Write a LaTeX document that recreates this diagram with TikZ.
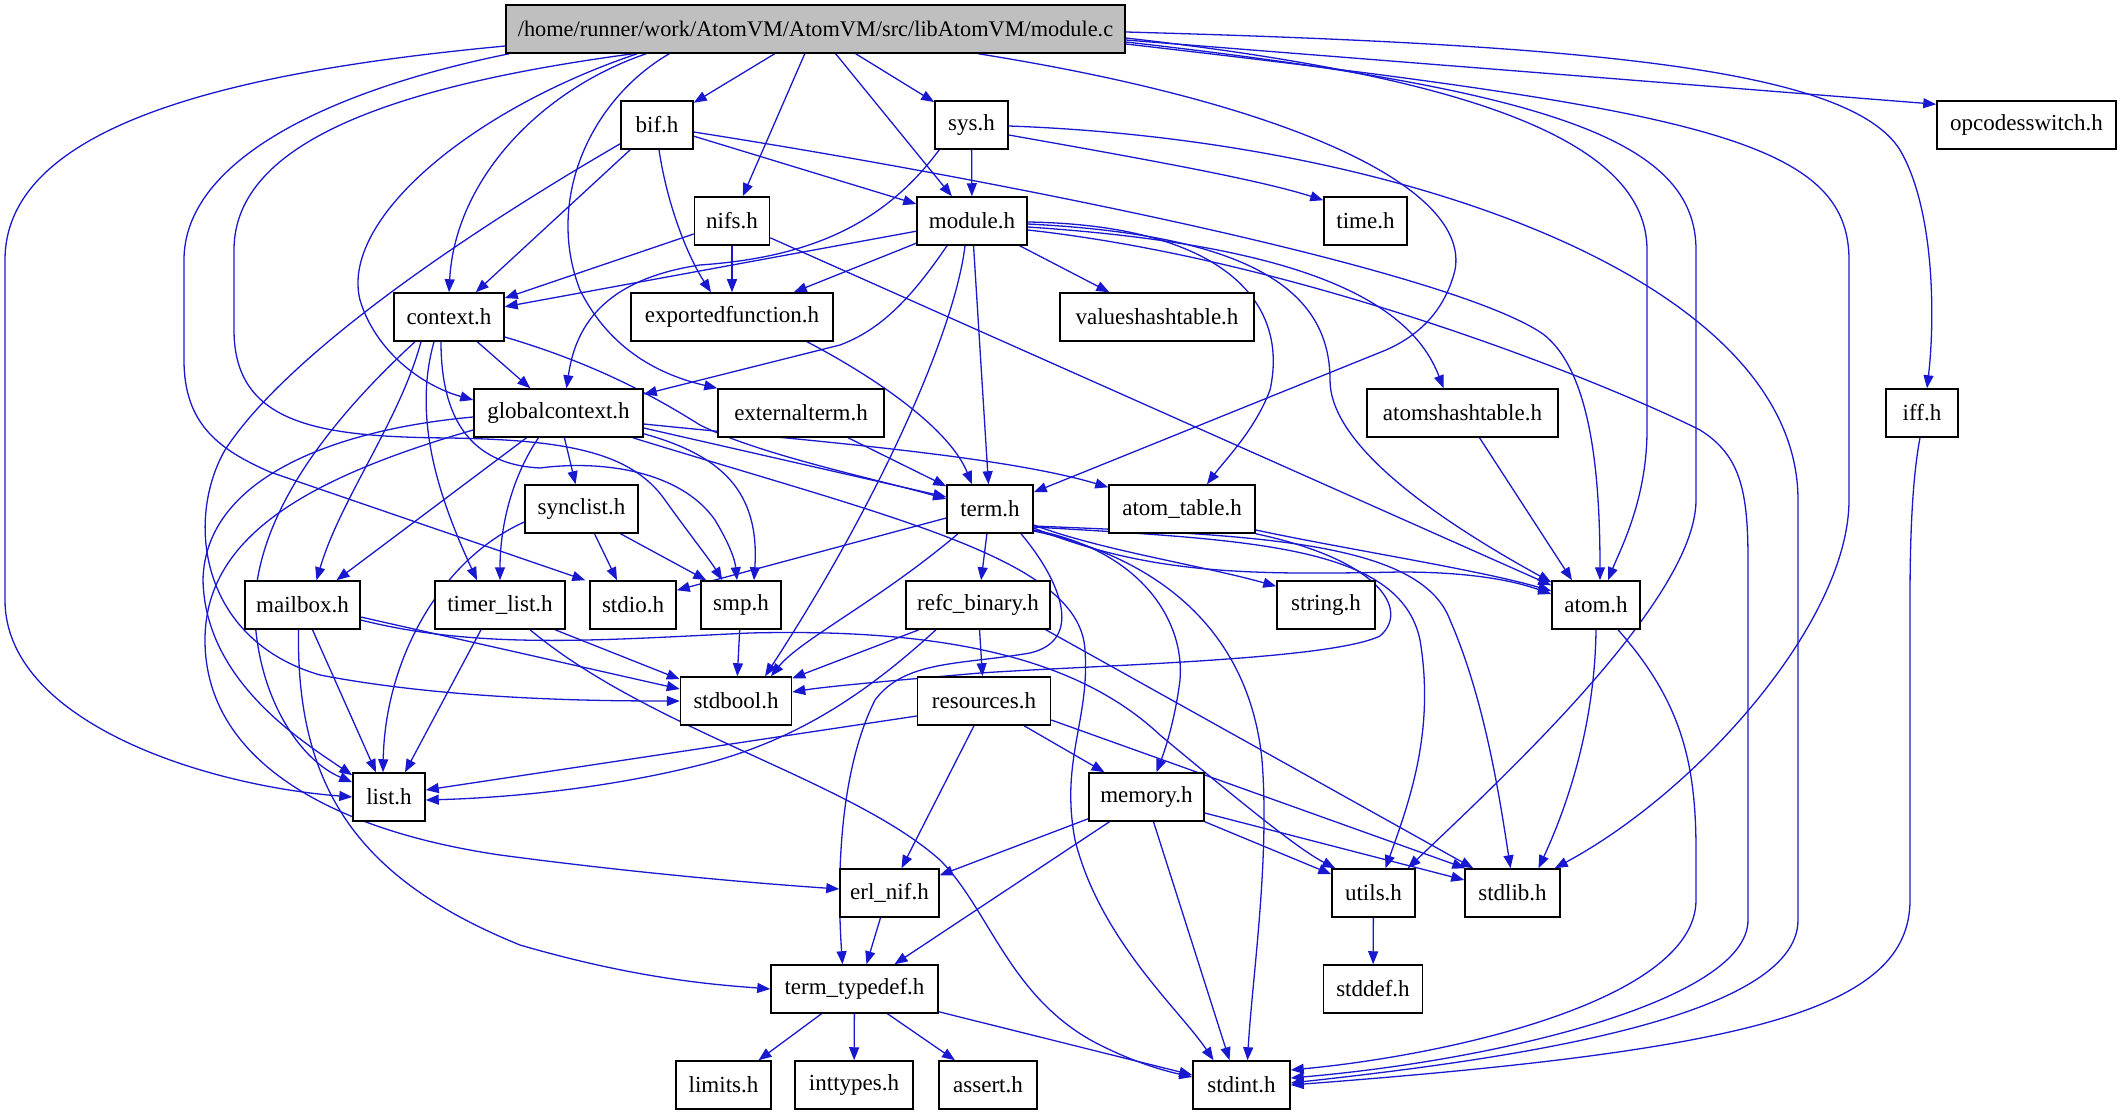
\documentclass[tikz,border=0pt]{standalone}
\usepackage{fontspec}
\setmainfont{Liberation Serif}
\newfontfamily\dgserif{Liberation Serif}
\usetikzlibrary{arrows.meta}
\definecolor{edgeblue}{RGB}{24,24,208}
\definecolor{rootgray}{RGB}{191,191,191}
\newcommand\dgfont{\dgserif\fontsize{23}{27}\selectfont}
\newcommand\dgfontroot{\dgserif\fontsize{22.3}{27}\selectfont}
\pgfdeclarelayer{bg}
\pgfsetlayers{bg,main}
\tikzset{
  nd/.style={draw=black, line width=1.5pt, fill=white, minimum height=48pt, inner sep=0pt, font=\dgfont, text=black},
  e/.style={draw=edgeblue, line width=1.3pt, -{Triangle[length=13pt,width=10pt]}}
}
\begin{document}
\begin{tikzpicture}[x=1pt,y=-1pt]
\useasboundingbox (0,0) rectangle (2121,1115);
% nodes
\node[nd, fill=rootgray, minimum width=619pt, font=\dgfontroot] (modc) at (815.5,29) {/home/runner/work/AtomVM/AtomVM/src/libAtomVM/module.c};
\node[nd, minimum width=72pt] (bif) at (657,125) {bif.h};
\node[nd, minimum width=73pt] (sys) at (971.5,125) {sys.h};
\node[nd, minimum width=179pt] (opc) at (2026.5,125) {opcodesswitch.h};
\node[nd, minimum width=75pt] (nifs) at (732,221) {nifs.h};
\node[nd, minimum width=110pt] (modh) at (972,221) {module.h};
\node[nd, minimum width=83pt] (time) at (1365.5,221) {time.h};
\node[nd, minimum width=110pt] (ctx) at (449,317) {context.h};
\node[nd, minimum width=202pt] (expf) at (732,317) {exportedfunction.h};
\node[nd, minimum width=194pt] (vht) at (1157,317) {valueshashtable.h};
\node[nd, minimum width=169pt] (gctx) at (558.5,413) {globalcontext.h};
\node[nd, minimum width=166pt] (ext) at (801,413) {externalterm.h};
\node[nd, minimum width=191pt] (ath) at (1462.5,413) {atomshashtable.h};
\node[nd, minimum width=72pt] (iff) at (1922,413) {iff.h};
\node[nd, minimum width=113pt] (sync) at (581.5,509) {synclist.h};
\node[nd, minimum width=86pt] (term) at (990,509) {term.h};
\node[nd, minimum width=146pt] (atab) at (1182,509) {atom\_table.h};
\node[nd, minimum width=115pt] (mbox) at (302.5,605) {mailbox.h};
\node[nd, minimum width=130pt] (tlist) at (500,605) {timer\_list.h};
\node[nd, minimum width=86pt] (stdio) at (633,605) {stdio.h};
\node[nd, minimum width=80pt] (smp) at (741,605) {smp.h};
\node[nd, minimum width=144pt] (refc) at (978,605) {refc\_binary.h};
\node[nd, minimum width=98pt] (str) at (1326,605) {string.h};
\node[nd, minimum width=88pt] (atom) at (1596,605) {atom.h};
\node[nd, minimum width=111pt] (stdbool) at (736,701) {stdbool.h};
\node[nd, minimum width=133pt] (res) at (984,701) {resources.h};
\node[nd, minimum width=72pt] (list) at (389,797) {list.h};
\node[nd, minimum width=115pt] (mem) at (1146.5,797) {memory.h};
\node[nd, minimum width=99pt] (erl) at (889.5,893) {erl\_nif.h};
\node[nd, minimum width=83pt] (utils) at (1373.5,893) {utils.h};
\node[nd, minimum width=95pt] (stdlib) at (1512.5,893) {stdlib.h};
\node[nd, minimum width=167pt] (ttd) at (854.5,989) {term\_typedef.h};
\node[nd, minimum width=99pt] (stddef) at (1373,989) {stddef.h};
\node[nd, minimum width=95pt] (limits) at (723.5,1085) {limits.h};
\node[nd, minimum width=118pt] (intt) at (854,1085) {inttypes.h};
\node[nd, minimum width=98pt] (assert) at (988,1085) {assert.h};
\node[nd, minimum width=97pt] (stdint) at (1241.5,1085) {stdint.h};

\begin{pgfonlayer}{bg}
% module.c
\draw[e] ([yshift=-17pt]modc.west) .. controls (250,70) and (5,120) .. (5,260) -- (5,600) .. controls (5,720) and (200,785) .. (list.west);
\draw[e] ([xshift=4pt]modc.south west) .. controls (330,90) and (184,160) .. (184,260) -- (184,360) .. controls (184,425) and (220,450) .. (270,472) -- ([xshift=-4pt]stdio.north west);
\draw[e] ([xshift=128pt]modc.south west) .. controls (400,85) and (234,140) .. (234,250) -- (234,330) .. controls (234,425) and (320,437) .. (450,438) .. controls (560,440) and (630,450) .. (665,500) .. controls (690,535) and (710,560) .. ([xshift=22pt]smp.north west);
\draw[e] ([xshift=132pt]modc.south west) .. controls (470,110) and (340,220) .. (360,300) .. controls (375,350) and (420,385) .. ([yshift=13pt]gctx.west);
\draw[e] ([xshift=141pt]modc.south west) .. controls (540,90) and (455,180) .. (ctx.north);
\draw[e] ([xshift=164pt]modc.south west) .. controls (590,100) and (545,200) .. (580,290) .. controls (610,350) and (660,375) .. (ext.north west);
\draw[e] (modc) -- (bif);
\draw[e] (modc) -- (nifs);
\draw[e] (modc) -- (modh);
\draw[e] (modc) -- (sys);
\draw[e] ([xshift=473pt]modc.south west) .. controls (1300,105) and (1470,190) .. (1455,270) .. controls (1445,310) and (1420,335) .. (1386,350) -- ([yshift=-8pt]term.north east);
\draw[e] ([yshift=-9pt]modc.east) .. controls (1500,80) and (1647,150) .. (1647,250) -- (1647,430) .. controls (1647,500) and (1620,550) .. ([xshift=12pt]atom.north);
\draw[e] ([yshift=-13pt]modc.east) .. controls (1550,90) and (1696,140) .. (1696,250) -- (1696,500) .. controls (1696,600) and (1500,780) .. ([xshift=-8pt]utils.north east);
\draw[e] ([yshift=-15pt]modc.east) .. controls (1700,110) and (1849,140) .. (1849,260) -- (1849,500) .. controls (1849,620) and (1700,790) .. ([xshift=-6pt]stdlib.north east);
\draw[e] ([yshift=-11pt]modc.east) -- ([yshift=-4pt]opc.north west);
\draw[e] ([yshift=-3pt]modc.east) .. controls (1600,45) and (1850,70) .. (1900,150) .. controls (1935,210) and (1935,320) .. ([xshift=5pt]iff.north);
% bif.h
\draw[e] (bif) -- (modh);
\draw[e] (bif) -- (ctx);
\draw[e] ([xshift=2pt]bif.south) .. controls (668,210) and (690,260) .. ([xshift=-21pt]expf.north);
\draw[e] ([yshift=6pt]bif.south west) .. controls (480,225) and (290,350) .. (225,450) .. controls (185,520) and (200,640) .. (320,675) .. controls (450,700) and (600,701) .. (stdbool.west);
\draw[e] ([yshift=-7pt]bif.east) .. controls (1000,180) and (1450,270) .. (1543,334) .. controls (1590,370) and (1600,470) .. ([xshift=4pt]atom.north);
% sys.h
\draw[e] (sys) -- (modh);
\draw[e] ([xshift=5pt]sys.south west) .. controls (880,230) and (800,258) .. (700,265) .. controls (600,280) and (575,330) .. ([xshift=8pt]gctx.north);
\draw[e] ([yshift=-10pt]sys.east) .. controls (1150,160) and (1260,180) .. ([yshift=-4pt]time.north west);
\draw[e] ([yshift=-1pt]sys.east) .. controls (1400,140) and (1798,280) .. (1798,500) -- (1798,920) .. controls (1798,1020) and (1500,1060) .. ([yshift=2pt]stdint.east);
% nifs.h
\draw[e] (nifs) -- (ctx);
\draw[e] (nifs) -- (expf);
\draw[e] (nifs) -- (atom);
% module.h
\draw[e] (modh) -- (ctx);
\draw[e] (modh) -- (expf);
\draw[e] (modh) -- (vht);
\draw[e] ([xshift=-25pt]modh.south) .. controls (910,300) and (880,330) .. (840,345) -- ([yshift=-6pt]gctx.north east);
\draw[e] (modh) -- (term);
\draw[e] ([xshift=-7pt]modh.south) .. controls (955,330) and (880,500) .. ([xshift=29pt]stdbool.north);
\draw[e] ([yshift=-1pt]modh.east) .. controls (1220,225) and (1290,300) .. (1270,390) .. controls (1255,430) and (1225,460) .. ([xshift=25pt]atab.north);
\draw[e] ([yshift=-3pt]modh.east) .. controls (1250,235) and (1330,290) .. (1330,380) .. controls (1330,440) and (1420,510) .. ([yshift=-2pt]atom.north west);
\draw[e] ([yshift=-6pt]modh.east) .. controls (1300,245) and (1410,300) .. ([xshift=-19pt]ath.north);
\draw[e] ([yshift=-9pt]modh.east) .. controls (1300,260) and (1600,380) .. (1700,430) .. controls (1740,455) and (1748,490) .. (1748,560) -- (1748,920) .. controls (1748,1000) and (1500,1060) .. ([yshift=7pt]stdint.east);
% context.h
\draw[e] (ctx) -- (gctx);
\draw[e] ([yshift=-20pt]ctx.east) .. controls (600,365) and (660,400) .. (700,425) .. controls (760,455) and (880,480) .. ([yshift=10pt]term.west);
\draw[e] ([xshift=-28pt]ctx.south) .. controls (400,420) and (340,500) .. ([xshift=14pt]mbox.north);
\draw[e] ([xshift=-15pt]ctx.south) .. controls (412,420) and (440,500) .. ([xshift=-23pt]tlist.north);
\draw[e] ([xshift=-8pt]ctx.south) .. controls (441,430) and (480,465) .. (540,468) .. controls (600,460) and (680,470) .. (715,520) .. controls (730,545) and (735,560) .. ([xshift=-4pt]smp.north);
\draw[e] ([xshift=-34pt]ctx.south) .. controls (330,420) and (250,520) .. (255,620) .. controls (260,700) and (300,760) .. ([yshift=-10pt]list.north west);
% globalcontext.h
\draw[e] (gctx) -- (sync);
\draw[e] ([xshift=-20pt]gctx.south) .. controls (510,480) and (500,530) .. (tlist.north);
\draw[e] ([xshift=-32pt]gctx.south) -- ([xshift=34pt]mbox.north);
\draw[e] ([yshift=4pt]gctx.south east) .. controls (720,455) and (760,490) .. ([xshift=13pt]smp.north);
\draw[e] ([yshift=-15pt]gctx.east) -- ([yshift=12pt]term.west);
\draw[e] ([yshift=-11pt]gctx.east) .. controls (800,440) and (1000,455) .. ([yshift=-3pt]atab.north west);
\draw[e] ([xshift=-11pt]gctx.south east) .. controls (900,520) and (1080,560) .. (1085,650) .. controls (1090,720) and (1060,760) .. (1075,840) .. controls (1100,940) and (1180,1010) .. ([xshift=-28pt]stdint.north);
\draw[e] ([yshift=-4pt]gctx.west) .. controls (330,430) and (205,480) .. (203,580) .. controls (205,680) and (300,740) .. ([yshift=-3pt]list.north west);
\draw[e] ([yshift=-17pt]gctx.west) .. controls (300,480) and (205,540) .. (205,640) .. controls (205,760) and (330,830) .. (500,855) .. controls (650,875) and (780,885) .. ([yshift=4pt]erl.west);
% externalterm, exportedfunction, atomshashtable, iff
\draw[e] ([xshift=47pt]ext.south) -- ([yshift=-2pt]term.north west);
\draw[e] ([xshift=75pt]expf.south) .. controls (880,380) and (950,430) .. ([xshift=-18pt]term.north);
\draw[e] ([xshift=17pt]ath.south) -- ([xshift=-24pt]atom.north);
\draw[e] ([xshift=-2pt]iff.south) .. controls (1912,480) and (1910,540) .. (1910,600) -- (1910,900) .. controls (1910,1010) and (1750,1050) .. (stdint.east);
% synclist.h
\draw[e] ([yshift=-13pt]sync.west) .. controls (440,560) and (385,660) .. ([xshift=-6pt]list.north);
\draw[e] ([xshift=13pt]sync.south) -- ([xshift=-16pt]stdio.north);
\draw[e] ([xshift=39pt]sync.south) -- ([xshift=6pt]smp.north west);
% term.h
\draw[e] ([yshift=-9pt]term.west) -- ([yshift=-10pt]stdio.north east);
\draw[e] ([xshift=-32pt]term.south) .. controls (880,600) and (800,640) .. ([xshift=35pt]stdbool.north);
\draw[e] (term) -- (refc);
\draw[e] ([xshift=31pt]term.south) .. controls (1060,580) and (1085,640) .. (1030,653) .. controls (960,665) and (905,660) .. (875,700) .. controls (835,780) and (838,900) .. ([xshift=-12pt]ttd.north);
\draw[e] ([yshift=-16pt]term.east) .. controls (1100,550) and (1200,565) .. ([yshift=-6pt]str.north west);
\draw[e] ([yshift=-19pt]term.east) .. controls (1150,575) and (1250,575) .. (1400,572) .. controls (1480,572) and (1520,583) .. ([yshift=11pt]atom.west);
\draw[e] ([yshift=-21pt]term.east) .. controls (1140,550) and (1185,620) .. (1180,680) .. controls (1175,720) and (1165,750) .. ([xshift=10pt]mem.north);
\draw[e] ([yshift=-22pt]term.east) .. controls (1170,560) and (1250,640) .. (1262,760) .. controls (1270,860) and (1252,980) .. ([xshift=6pt]stdint.north);
\draw[e] ([yshift=-18pt]term.east) .. controls (1250,540) and (1400,545) .. (1420,640) .. controls (1435,730) and (1410,800) .. ([xshift=12pt]utils.north);
\draw[e] ([yshift=-17pt]term.east) .. controls (1250,535) and (1420,540) .. (1450,620) .. controls (1485,700) and (1500,800) .. ([xshift=-2pt]stdlib.north);
% atom_table.h
\draw[e] ([yshift=-21pt]atab.east) .. controls (1350,550) and (1480,570) .. ([yshift=14pt]atom.west);
\draw[e] (atab.south east) .. controls (1380,560) and (1410,610) .. (1380,636) .. controls (1330,660) and (1100,665) .. (980,673) .. controls (900,680) and (830,686) .. ([yshift=9pt]stdbool.east);
% mailbox.h
\draw[e] ([xshift=10pt]mbox.south) -- ([xshift=-13pt]list.north);
\draw[e] ([yshift=-12pt]mbox.east) -- ([yshift=12pt]stdbool.west);
\draw[e] ([yshift=-15pt]mbox.east) .. controls (480,650) and (600,640) .. (750,633) .. controls (950,628) and (1080,660) .. (1160,735) .. controls (1250,810) and (1300,850) .. ([xshift=4pt]utils.north west);
\draw[e] ([xshift=-4pt]mbox.south) .. controls (296,790) and (360,880) .. (520,945) .. controls (640,980) and (720,985) .. (ttd.west);
% timer_list.h
\draw[e] ([xshift=-19pt]tlist.south) -- ([xshift=16pt]list.north);
\draw[e] ([xshift=55pt]tlist.south) -- ([yshift=-3pt]stdbool.north west);
\draw[e] ([xshift=30pt]tlist.south) .. controls (650,730) and (850,780) .. (940,860) .. controls (990,910) and (1010,1000) .. (1100,1045) .. controls (1140,1065) and (1170,1072) .. ([yshift=8pt]stdint.west);
% smp, refc_binary, resources
\draw[e] (smp) -- (stdbool);
\draw[e] ([xshift=-59pt]refc.south) -- ([yshift=-2pt]stdbool.north east);
\draw[e] ([xshift=-42pt]refc.south) .. controls (870,690) and (800,740) .. (700,765) .. controls (600,790) and (500,798) .. ([yshift=-3pt]list.east);
\draw[e] (refc) -- (res);
\draw[e] ([xshift=-5pt]refc.south east) -- ([xshift=9pt]stdlib.north west);
\draw[e] ([yshift=-15pt]res.west) -- ([yshift=7pt]list.east);
\draw[e] ([xshift=40pt]res.south) -- ([xshift=-42pt]mem.north);
\draw[e] ([yshift=-19pt]res.east) -- ([xshift=1pt]stdlib.north west);
\draw[e] ([xshift=-10pt]res.south) -- ([xshift=12pt]erl.north);
% memory.h
\draw[e] ([yshift=3pt]mem.south west) -- ([yshift=-7pt]erl.north east);
\draw[e] ([xshift=-37pt]mem.south) -- ([xshift=40pt]ttd.north);
\draw[e] ([xshift=7pt]mem.south) -- ([xshift=-12pt]stdint.north);
\draw[e] (mem.south east) -- ([yshift=-6pt]utils.north west);
\draw[e] ([yshift=-16pt]mem.east) -- ([yshift=13pt]stdlib.west);
% others
\draw[e] ([xshift=-9pt]erl.south) -- ([xshift=12pt]ttd.north);
\draw[e] ([xshift=-33pt]ttd.south) -- ([xshift=35pt]limits.north);
\draw[e] (ttd) -- (intt);
\draw[e] ([xshift=33pt]ttd.south) -- ([xshift=-33pt]assert.north);
\draw[e] ([yshift=2pt]ttd.south east) -- ([yshift=10pt]stdint.west);
\draw[e] (utils) -- (stddef);
\draw[e] (atom.south) .. controls (1595,720) and (1570,800) .. ([xshift=26pt]stdlib.north);
\draw[e] ([xshift=22pt]atom.south) .. controls (1680,700) and (1696,760) .. (1696,850) -- (1696,900) .. controls (1696,1000) and (1450,1055) .. ([yshift=15pt]stdint.east);
\end{pgfonlayer}
\end{tikzpicture}
\end{document}
